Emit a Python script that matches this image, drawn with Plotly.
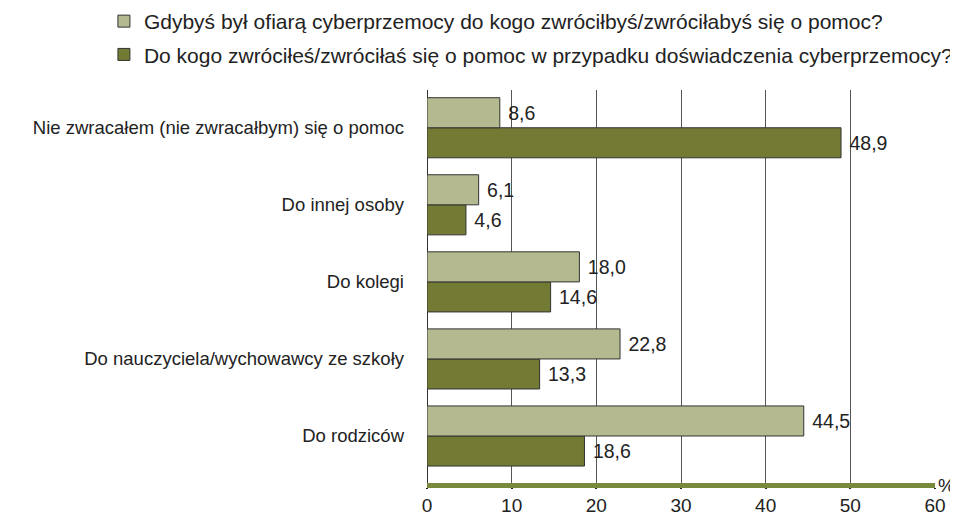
import plotly.graph_objects as go

categories = ["Do rodziców", "Do nauczyciela/wychowawcy ze szkoły", "Do kolegi",
              "Do innej osoby", "Nie zwracałem (nie zwracałbym) się o pomoc"]
series_hypo = [44.5, 22.8, 18.0, 6.1, 8.6]
series_real = [18.6, 13.3, 14.6, 4.6, 48.9]
name_hypo = "Gdybyś był ofiarą cyberprzemocy do kogo zwróciłbyś/zwróciłabyś się o pomoc?"
name_real = "Do kogo zwróciłeś/zwróciłaś się o pomoc w przypadku doświadczenia cyberprzemocy?"
x_ticks = [0, 10, 20, 30, 40, 50, 60]

LIGHT = "#b5b98f"
DARK = "#737a34"
FONT = "Liberation Sans, Arial, sans-serif"

fig = go.Figure()
fig.add_trace(go.Bar(
    y=categories, x=series_real, orientation="h", name=name_real,
    marker=dict(color=DARK, line=dict(color="#333333", width=1)),
    texttemplate=" %{x:.1f}", textposition="outside",
    textfont=dict(size=19.5, color="#222222", family=FONT),
    legendgroup="b", legendrank=2, cliponaxis=False,
))
fig.add_trace(go.Bar(
    y=categories, x=series_hypo, orientation="h", name=name_hypo,
    marker=dict(color=LIGHT, line=dict(color="#333333", width=1)),
    texttemplate=" %{x:.1f}", textposition="outside",
    textfont=dict(size=19.5, color="#222222", family=FONT),
    legendgroup="a", legendrank=1, cliponaxis=False,
))

fig.update_layout(
    width=950, height=506,
    margin=dict(l=419, r=23, t=82, b=31, autoexpand=False),
    paper_bgcolor="white", plot_bgcolor="white",
    barmode="group", bargap=0.22, bargroupgap=0,
    separators=", ",
    font=dict(family=FONT, size=18.5, color="#222222"),
    showlegend=True,
    legend=dict(
        x=-0.636, y=1.2265, xanchor="left", yanchor="top",
        orientation="v", traceorder="grouped", tracegroupgap=3,
        font=dict(size=21, color="#222222", family=FONT),
        itemwidth=30, bgcolor="rgba(0,0,0,0)",
    ),
    xaxis=dict(
        range=[0, 60], tickvals=x_ticks, ticktext=[str(v) for v in x_ticks],
        showgrid=True, gridcolor="#555555", gridwidth=1,
        zeroline=True, zerolinecolor="#333333", zerolinewidth=1,
        showline=True, linecolor="#7a8a3c", linewidth=5,
        ticks="outside", ticklen=1, tickwidth=2, tickcolor="#222222",
        tickfont=dict(size=19, color="#222222"), automargin=False,
    ),
    yaxis=dict(
        range=[-0.61, 4.49], showgrid=False, zeroline=False, showline=False,
        ticks="", ticklabelstandoff=22, automargin=False,
        tickfont=dict(size=18.5, color="#222222"),
    ),
)
fig.add_annotation(text="%", x=1.0, y=0.0, xref="paper", yref="paper",
                   xanchor="left", yanchor="middle", xshift=2, yshift=-2,
                   borderpad=0, showarrow=False,
                   font=dict(size=19, color="#222222"))

fig.write_html("out.html")
